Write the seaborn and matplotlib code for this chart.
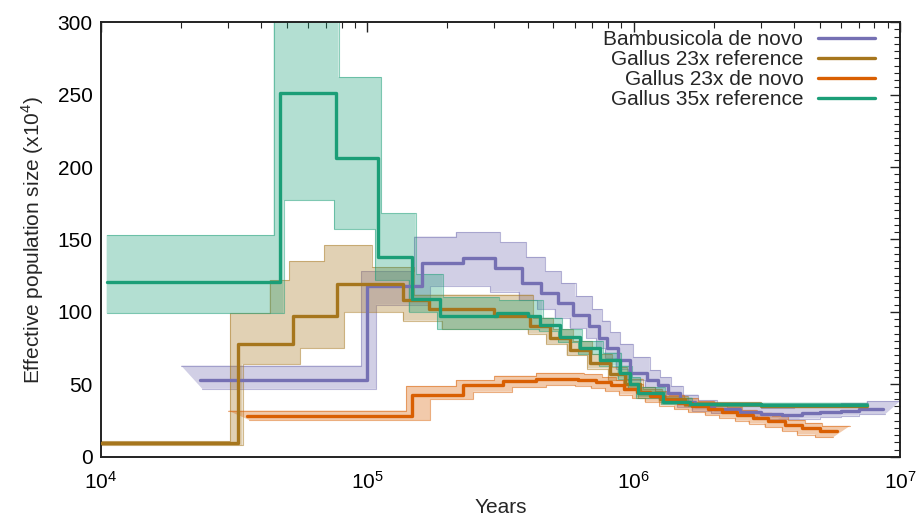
import numpy as np
import pandas as pd
import matplotlib
matplotlib.use("Agg")
import matplotlib.pyplot as plt
from matplotlib.lines import Line2D
from matplotlib.ticker import LogLocator, MultipleLocator
import seaborn as sns

# ---------------- PSMC estimates (years, Ne x 10^4) ----------------
series_names = ["Bambusicola de novo", "Gallus 23x reference",
                "Gallus 23x de novo", "Gallus 35x reference"]

# Bambusicola de novo
bam_t = [23.6e3, 100e3, 160e3, 229e3, 302e3, 380e3, 450e3, 520e3, 590e3, 680e3,
         740e3, 795e3, 870e3, 970e3, 1.12e6, 1.23e6, 1.35e6, 1.49e6, 1.7e6, 2.0e6,
         2.5e6, 3.0e6, 3.6e6, 4.3e6, 5.0e6, 6.0e6, 7.0e6]
bam_ne = [53, 118, 133.5, 137, 130, 120, 113, 106, 98, 90,
          82, 75, 67, 58, 53, 49.5, 44, 38, 35, 33,
          31, 29.5, 29, 30, 31, 32, 33]
bam_end = 8.6e6
bam_hi_t = [20e3, 95e3, 150e3, 215e3, 315e3, 395e3, 465e3, 535e3, 605e3, 700e3,
            760e3, 815e3, 890e3, 995e3, 1.15e6, 1.26e6, 1.38e6, 1.53e6, 1.75e6,
            2.05e6, 2.5e6, 3.0e6, 4.0e6, 5.0e6, 6.0e6, 7.5e6]
bam_hi = [63, 128, 152, 155, 148, 138, 128, 120, 111, 102,
          94, 86, 78, 69, 60, 55, 49, 43, 39,
          37, 35, 34, 35, 36, 37, 38.5]
bam_hi_end = 10e6
bam_lo_t = [24e3, 108e3, 172e3, 290e3, 370e3, 435e3, 505e3, 575e3, 665e3, 725e3,
            780e3, 855e3, 950e3, 1.1e6, 1.2e6, 1.32e6, 1.46e6, 1.65e6, 1.95e6,
            2.45e6, 2.9e6, 3.5e6, 4.2e6, 5.0e6, 6.0e6, 7.0e6]
bam_lo = [47, 105, 118, 114, 108, 102, 96, 89, 82, 75,
          68, 61, 53, 48, 44.5, 40, 34.5, 32, 30,
          28, 26.5, 26, 26.5, 27.5, 28.5, 29.5]
bam_lo_end = 8.8e6

# Gallus 23x reference
g23r_t = [8e3, 32.6e3, 52.7e3, 76.7e3, 136e3, 170e3, 300e3, 408e3, 485e3, 577e3,
          686e3, 815e3, 929e3, 1.06e6, 1.26e6, 1.56e6, 3.0e6]
g23r_ne = [9.4, 77.7, 97, 119.5, 108, 102, 97, 90, 82, 74,
           65, 57, 50, 44, 40, 36.5, 35.5]
g23r_end = 7.5e6
g23r_hi_t = [8e3, 30.5e3, 43e3, 51e3, 69e3, 104e3, 150e3, 420e3, 500e3, 592e3,
             700e3, 830e3, 945e3, 1.08e6, 1.28e6, 1.6e6, 3.0e6]
g23r_hi = [11, 99, 122, 135, 146, 131, 112, 96, 88, 80,
           71, 62, 54, 47, 42, 38, 36.5]
g23r_hi_end = 7.6e6
g23r_lo_t = [8e3, 34e3, 56e3, 82e3, 136e3, 190e3, 400e3, 470e3, 560e3, 670e3,
             800e3, 915e3, 1.04e6, 1.24e6, 1.54e6, 3.0e6]
g23r_lo = [8, 64, 75, 100, 94, 88, 85, 78, 70, 61,
           53, 46, 41, 38, 35, 34.5]
g23r_lo_end = 7.4e6

# Gallus 23x de novo
g23d_t = [35.3e3, 147e3, 229e3, 324e3, 430e3, 620e3, 720e3, 820e3, 920e3, 1.03e6,
          1.15e6, 1.3e6, 1.47e6, 1.66e6, 1.9e6, 2.15e6, 2.45e6, 2.8e6, 3.2e6,
          3.7e6, 4.3e6, 5.0e6]
g23d_ne = [28.5, 43, 49.5, 52.5, 54, 53, 51.5, 49.5, 47, 44.5,
           42, 39.5, 37, 35, 33, 31, 29, 27, 24.5,
           22, 20, 18]
g23d_end = 5.8e6
g23d_hi_t = [30e3, 140e3, 215e3, 300e3, 430e3, 650e3, 760e3, 860e3, 960e3, 1.08e6,
             1.2e6, 1.36e6, 1.54e6, 1.74e6, 2.0e6, 2.25e6, 2.55e6, 2.9e6, 3.3e6,
             3.8e6, 4.4e6, 5.1e6]
g23d_hi = [32, 49, 53, 56, 58, 57, 55, 53, 50.5, 48,
           45.5, 43, 40.5, 38.5, 36.5, 34.5, 32.5, 30.5, 28,
           25.5, 23.5, 21.5]
g23d_hi_end = 6.5e6
g23d_lo_t = [36e3, 172e3, 250e3, 350e3, 470e3, 600e3, 690e3, 780e3, 880e3, 990e3,
             1.1e6, 1.25e6, 1.42e6, 1.6e6, 1.85e6, 2.1e6, 2.4e6, 2.7e6, 3.1e6,
             3.6e6, 4.1e6, 4.8e6]
g23d_lo = [25.5, 40, 45, 48, 49.5, 49, 47.5, 45.5, 43, 40.5,
           38, 35.5, 33, 31, 29, 27, 25, 23, 20.5,
           18, 15.5, 13.5]
g23d_lo_end = 5.6e6

# Gallus 35x reference
g35r_t = [10.5e3, 47.1e3, 76.2e3, 110e3, 147e3, 187e3, 306e3, 400e3, 446e3, 530e3,
          630e3, 750e3, 888e3, 970e3, 1.04e6, 1.29e6, 1.63e6, 3.0e6]
g35r_ne = [121, 251, 206, 138, 109, 97, 99, 97, 91, 83,
           75, 67, 58, 50, 44, 38, 36.5, 35.8]
g35r_end = 7.5e6
g35r_hi_t = [10.5e3, 44.5e3, 78e3, 113e3, 152e3, 192e3, 312e3, 455e3, 540e3, 640e3,
             765e3, 900e3, 985e3, 1.06e6, 1.31e6, 1.66e6]
g35r_hi = [153, 330, 262, 168, 126, 110, 108, 96, 88, 80,
           72, 63, 55, 48, 41, 37.5]
g35r_hi_end = 7.6e6
g35r_lo_t = [10.5e3, 48.5e3, 75e3, 107e3, 143e3, 183e3, 440e3, 520e3, 620e3, 740e3,
             870e3, 955e3, 1.02e6, 1.27e6, 1.6e6, 3.0e6]
g35r_lo = [99, 177, 157, 122, 100, 88, 87, 79, 71, 63,
           54, 47, 41, 36.5, 35.5, 35]
g35r_lo_end = 7.5e6

series_colors = ["#7570b3", "#a6761d", "#d95f02", "#1b9e77"]

# ---------------- styling ----------------
sns.set_style("white")
plt.rcParams["font.family"] = ["Liberation Sans", "DejaVu Sans"]
plt.rcParams["font.size"] = 15
plt.rcParams["axes.edgecolor"] = "#222222"


def step_xy(t, y, end):
    xs = np.repeat(np.append(np.asarray(t, float), end), 2)[1:-1]
    ys = np.repeat(np.asarray(y, float), 2)
    return xs, ys


fig = plt.figure(figsize=(9.19, 5.18), dpi=100)
ax = fig.add_axes([0.1099, 0.1178, 0.8694, 0.8397])

bands = [
    (bam_hi_t, bam_hi, bam_hi_end, bam_lo_t, bam_lo, bam_lo_end),
    (g23r_hi_t, g23r_hi, g23r_hi_end, g23r_lo_t, g23r_lo, g23r_lo_end),
    (g23d_hi_t, g23d_hi, g23d_hi_end, g23d_lo_t, g23d_lo, g23d_lo_end),
    (g35r_hi_t, g35r_hi, g35r_hi_end, g35r_lo_t, g35r_lo, g35r_lo_end),
]

# bootstrap spread: envelope of the replicate curves
for (ht, hy, he, lt, ly, le), col in zip(bands, series_colors):
    hx, hyy = step_xy(ht, hy, he)
    lx, lyy = step_xy(lt, ly, le)
    px = np.concatenate([hx, lx[::-1]])
    py = np.concatenate([hyy, lyy[::-1]])
    ax.fill(px, py, color=col, alpha=0.33, lw=0, zorder=1)
    ax.plot(hx, hyy, color=col, alpha=0.5, lw=0.8, zorder=1)
    ax.plot(lx, lyy, color=col, alpha=0.5, lw=0.8, zorder=1)

# main PSMC trajectories
mains = [(bam_t, bam_ne, bam_end), (g23r_t, g23r_ne, g23r_end),
         (g23d_t, g23d_ne, g23d_end), (g35r_t, g35r_ne, g35r_end)]
frames = []
for name, (t, y, e) in zip(series_names, mains):
    frames.append(pd.DataFrame({"years": list(t) + [e],
                                "ne": list(y) + [y[-1]],
                                "series": name}))
df = pd.concat(frames, ignore_index=True)

sns.lineplot(data=df, x="years", y="ne", hue="series", hue_order=series_names,
             palette=series_colors, estimator=None, sort=False, legend=False,
             drawstyle="steps-post", lw=2.4, ax=ax, zorder=3)

ax.set_xscale("log")
ax.set_xlim(1e4, 1e7)
ax.set_ylim(0, 300)
ax.yaxis.set_major_locator(MultipleLocator(50))
ax.yaxis.set_minor_locator(MultipleLocator(5))
ax.xaxis.set_major_locator(LogLocator(base=10, numticks=10))
ax.xaxis.set_minor_locator(LogLocator(base=10, subs=np.arange(2, 10), numticks=20))

ax.tick_params(which="both", direction="in", top=True, right=True,
               colors="#222222", labelcolor="black", labelsize=15)
ax.tick_params(which="major", length=7, width=1.0)
ax.tick_params(axis="y", which="major", pad=6)
ax.tick_params(axis="x", which="major", pad=10)
ax.tick_params(which="minor", length=4, width=0.8)
for s in ax.spines.values():
    s.set_linewidth(1.4)
    s.set_visible(True)

ax.set_xlabel("Years", fontsize=15, labelpad=4)
ax.set_ylabel(r"Effective population size (x10$^{\mathdefault{4}}$)", fontsize=15,
              labelpad=8)

handles = [Line2D([0], [0], color=c, lw=2.4) for c in series_colors]
ax.legend(handles, series_names, loc="upper right", bbox_to_anchor=(0.969, 0.982),
          markerfirst=False, frameon=False, fontsize=15, handlelength=2.75,
          handletextpad=0.7, labelspacing=0.05, borderaxespad=0, borderpad=0)

fig.savefig("out.png", dpi=100)
